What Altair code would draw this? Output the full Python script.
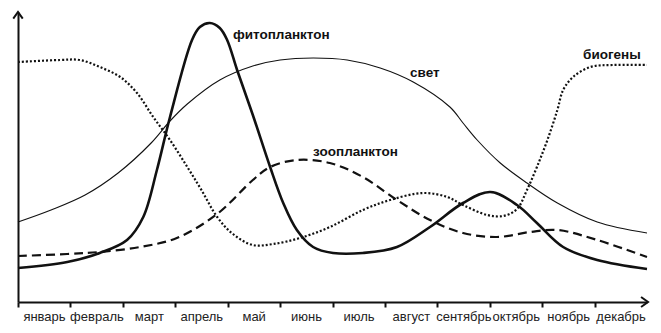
import json
import altair as alt
import pandas as pd

months = ["январь", "февраль", "март", "апрель", "май", "июнь", "июль",
          "август", "сентябрь", "октябрь", "ноябрь", "декабрь"]

# month position (0..12) and relative level (0..290)
bio_t = [0, 0.80, 1.18, 1.56, 1.95, 2.27, 2.58, 2.90, 3.23, 3.50, 3.80, 4.10, 4.48, 4.87,
         5.38, 5.95, 6.58, 7.10, 7.73, 8.19, 8.49, 8.95, 9.26, 9.52, 9.71, 9.90, 10.10,
         10.29, 10.40, 10.59, 10.92, 11.35, 12.0]
bio_v = [240, 242, 242, 235, 225, 209, 185, 162, 135, 112, 85, 68, 57, 58,
         64, 75, 92, 102, 109, 105, 97, 87, 86, 93, 112, 135, 162,
         192, 212, 225, 235, 237, 237]

light_t = [0, 0.63, 1.28, 1.91, 2.54, 2.90, 3.23, 3.85, 4.48, 5.00, 5.63, 6.28, 6.91,
           7.54, 8.24, 8.49, 8.76, 9.20, 9.71, 10.29, 11.05, 12.0]
light_v = [80, 92, 107, 129, 159, 181, 198, 222, 236, 242, 244, 242, 234,
           220, 195, 179, 162, 139, 119, 99, 80, 69]

phyto_t = [0, 0.94, 1.56, 2.08, 2.39, 2.65, 2.90, 3.32, 3.47, 3.66, 3.85, 3.99, 4.18,
           4.48, 4.81, 5.06, 5.32, 5.63, 6.01, 6.58, 7.23, 7.86, 8.49, 9.01, 9.52,
           9.90, 10.40, 11.05, 12.0]
phyto_v = [34, 40, 49, 62, 85, 132, 185, 262, 275, 279, 274, 262, 232,
           187, 135, 99, 72, 55, 49, 49, 55, 75, 99, 110, 97,
           79, 55, 42, 33]

zoo_t = [0, 0.94, 1.56, 2.33, 3.03, 3.80, 4.48, 4.81, 5.32, 5.95, 6.58, 7.23, 7.86,
         8.49, 9.14, 9.77, 10.29, 11.05, 12.0]
zoo_v = [46, 48, 50, 55, 64, 88, 122, 135, 142, 139, 125, 102, 82,
         69, 65, 70, 72, 62, 45]

label_text = ["фитопланктон", "свет", "зоопланктон", "биогены"]
label_t = [4.10, 7.48, 5.63, 10.78]
label_v = [267, 229, 150, 247]

series = {
    "phyto": (phyto_t, phyto_v),
    "light": (light_t, light_v),
    "zoo": (zoo_t, zoo_v),
    "bio": (bio_t, bio_v),
}
rows = []
for name, (ts, vs) in series.items():
    for i, (t, v) in enumerate(zip(ts, vs)):
        rows.append({"series": name, "t": t, "v": v, "order": i})
df = pd.DataFrame(rows)

xscale = alt.Scale(domain=[0, 12], nice=False, zero=False)
yscale = alt.Scale(domain=[0, 290], nice=False, zero=False)

label_js = json.dumps(months, ensure_ascii=False)

xaxis = alt.Axis(values=list(range(12)), labelExpr=f"{label_js}[datum.value]",
                 labelOffset=26, labelFlush=False, labelOverlap=False,
                 tickSize=5, tickWidth=2, tickColor="#111",
                 domainColor="#111", domainWidth=2, grid=False, title=None,
                 labelFont="Liberation Sans", labelFontSize=13, labelColor="#222",
                 labelPadding=3)
yaxis = alt.Axis(labels=False, ticks=False, grid=False, title=None,
                 domainColor="#111", domainWidth=2)

X = alt.X("t:Q", scale=xscale, axis=xaxis)
Y = alt.Y("v:Q", scale=yscale, axis=yaxis)

base = alt.Chart(df)

styles = {
    "phyto": dict(strokeWidth=2.6),
    "light": dict(strokeWidth=1.1),
    "zoo": dict(strokeWidth=2.2, strokeDash=[9, 5]),
    "bio": dict(strokeWidth=2.2, strokeDash=[2, 2]),
}

layers = []
for name, st in styles.items():
    layers.append(
        base.transform_filter(alt.datum.series == name)
        .mark_line(interpolate="catmull-rom", color="#111", **st)
        .encode(x=X, y=Y, order="order:Q")
    )

lab_df = pd.DataFrame({"text": label_text, "t": label_t, "v": label_v})
labels = alt.Chart(lab_df).mark_text(
    align="left", baseline="middle", font="Liberation Sans", fontSize=13.5,
    fontWeight="bold", color="#111"
).encode(x=X, y=Y, text="text:N")

arrow_df = pd.DataFrame({"t": [12.02], "v": [0]})
arrow_r = alt.Chart(arrow_df).mark_point(
    shape="M -1.4 -1 L 0 0 L -1.4 1", size=100, filled=False,
    strokeWidth=2, color="#111", opacity=1
).encode(x=X, y=Y)

arrow_up_df = pd.DataFrame({"t": [0], "v": [290]})
arrow_u = alt.Chart(arrow_up_df).mark_point(
    shape="M -1 1.4 L 0 0 L 1 1.4", size=90, filled=False,
    strokeWidth=2, color="#111", opacity=1
).encode(x=X, y=Y)

chart = alt.layer(*layers, labels, arrow_r, arrow_u).properties(
    width=629, height=290,
    padding={"left": 18, "top": 12, "right": 14, "bottom": 31},
    autosize=alt.AutoSizeParams(type="none"),
    background="white",
).configure_view(stroke=None)

chart.save("out.html", embed_options={"renderer": "svg", "actions": False})
